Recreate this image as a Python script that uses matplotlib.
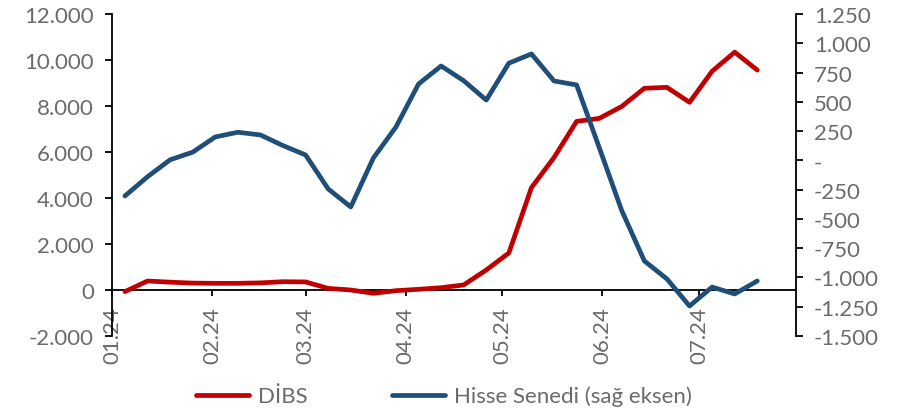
import matplotlib
matplotlib.use('Agg')
import matplotlib.pyplot as plt
import matplotlib.dates as mdates
from matplotlib.ticker import MultipleLocator, FuncFormatter
import datetime as dt

dates = ['2024-01-05', '2024-01-12', '2024-01-19', '2024-01-26', '2024-02-02',
         '2024-02-09', '2024-02-16', '2024-02-23', '2024-03-01', '2024-03-08',
         '2024-03-15', '2024-03-22', '2024-03-29', '2024-04-05', '2024-04-12',
         '2024-04-19', '2024-04-26', '2024-05-03', '2024-05-10', '2024-05-17',
         '2024-05-24', '2024-05-31', '2024-06-07', '2024-06-14', '2024-06-21',
         '2024-06-28', '2024-07-05', '2024-07-12', '2024-07-19']
dibs = [-70, 390, 340, 300, 290, 290, 310, 360, 350, 70,
        0, -145, -30, 30, 100, 220, 870, 1610, 4450, 5760,
        7330, 7460, 7980, 8770, 8810, 8160, 9510, 10340, 9560]
hisse = [-304, -140, 5, 70, 200, 240, 217, 126, 46, -244,
         -398, 20, 285, 652, 806, 680, 515, 830, 909, 678,
         644, 110, -430, -859, -1013, -1244, -1082, -1141, -1030]

labels = ['DİBS', 'Hisse Senedi (sağ eksen)']
red = '#C00000'
blue = '#1F4E79'
gray = '#6b6b6b'

x = [dt.datetime.strptime(d, '%Y-%m-%d') for d in dates]

plt.rcParams['font.family'] = ['Lato', 'DejaVu Sans']
plt.rcParams['font.size'] = 16

fig = plt.figure(figsize=(8.97, 4.14), dpi=100)
ax = fig.add_axes([0.1249, 0.186, 0.7625, 0.7778])
ax2 = ax.twinx()

l1, = ax.plot(x, dibs, color=red, lw=3.4, solid_capstyle='round', zorder=3)
l2, = ax2.plot(x, hisse, color=blue, lw=3.4, solid_capstyle='round', zorder=3)

ax.set_xlim(dt.datetime(2024, 1, 1), dt.datetime(2024, 7, 31))
ax.set_ylim(-2000, 12000)
ax2.set_ylim(-1500, 1250)
ax.yaxis.set_major_locator(MultipleLocator(2000))
ax2.yaxis.set_major_locator(MultipleLocator(250))


def fmt(v, pos):
    return f'{v:,.0f}'.replace(',', '.')


def fmt_r(v, pos):
    # Excel-style accounting format: zero shown as a dash
    if abs(v) < 1e-9:
        return '-'
    return f'{v:,.0f}'.replace(',', '.')


ax.yaxis.set_major_formatter(FuncFormatter(fmt))
ax2.yaxis.set_major_formatter(FuncFormatter(fmt_r))

ax.xaxis.set_major_locator(mdates.MonthLocator())
ax.xaxis.set_major_formatter(mdates.DateFormatter('%m.%y'))

for a in (ax, ax2):
    a.spines['top'].set_visible(False)
    a.patch.set_visible(False)
ax.spines['right'].set_visible(False)
ax2.spines['left'].set_visible(False)
ax2.spines['bottom'].set_visible(False)
ax.spines['bottom'].set_position(('data', 0))
for s in ('left', 'bottom'):
    ax.spines[s].set_linewidth(1.3)
ax2.spines['right'].set_linewidth(1.3)

ax.tick_params(axis='y', direction='out', length=5, width=1.3, colors='black',
               labelcolor=gray, labelsize=16, pad=8)
ax2.tick_params(axis='y', direction='out', length=5, width=1.3, colors='black',
                labelcolor=gray, labelsize=16, pad=8)
ax.tick_params(axis='x', direction='out', length=4.5, width=1.3, colors='black',
               labelcolor=gray, labelsize=16, pad=7, labelrotation=90)

fig.legend([l1, l2], labels, loc='center', bbox_to_anchor=(0.495, 0.041),
           ncol=2, frameon=False, fontsize=16, labelcolor=gray,
           handlelength=2.4, columnspacing=3.8, handletextpad=0.4)

fig.savefig('out.png', dpi=100)
